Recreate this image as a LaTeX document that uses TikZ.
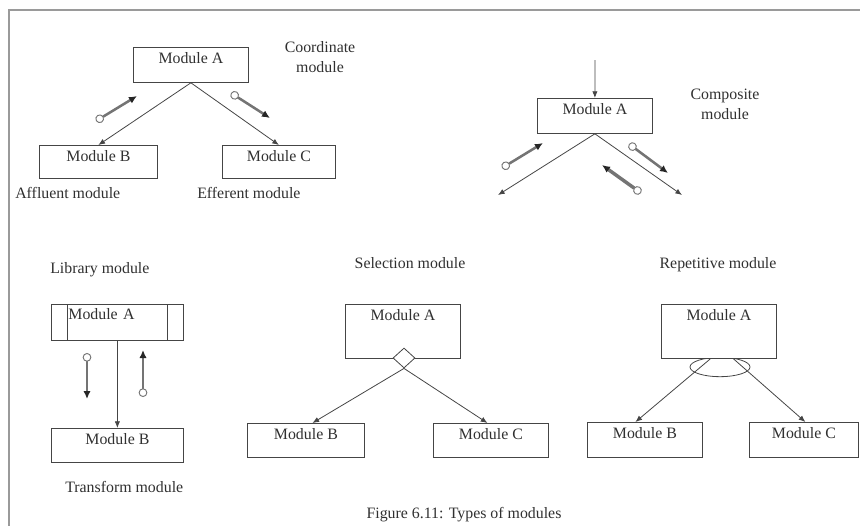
\documentclass[tikz,border=0pt]{standalone}
\usepackage{fontspec}
\setmainfont{Liberation Serif}
\usetikzlibrary{arrows.meta,shapes.geometric,calc}
\definecolor{ink}{HTML}{303030}
\definecolor{wire}{HTML}{454545}
\definecolor{framecol}{HTML}{9A9A9A}
\definecolor{couplecol}{HTML}{747474}

\begin{document}
\begin{tikzpicture}[x=0.75pt,y=-0.75pt,
  font=\fontsize{11.9}{15}\selectfont, text=ink,
  modbox/.style 2 args={draw=wire, line width=0.6pt, fill=white, inner sep=0pt,
    anchor=north west, minimum width=#1, text height=12pt, text depth=#2},
  conn/.style={draw=wire, line width=0.6pt, -{Latex[length=5pt,width=4pt]}},
  couple/.style={line width=1.9pt, draw=couplecol,
    arrows={Circle[open,fill=white,length=6.5pt,width=6.5pt,line width=0.7pt]-Latex[length=6pt,width=5.5pt,color=black!85]}},
  tag/.style={inner sep=0pt, anchor=base west},
  ctag/.style={inner sep=0pt, anchor=base},
  twoline/.style={inner sep=0pt, align=center, anchor=center}]

\useasboundingbox (0,0) rectangle (860,526);

% page frame (top and left rules)
\draw[framecol, line width=1.2pt] (860,10) -- (9,10) -- (9,526);

% ---- coordinate module ----
\node[modbox={86.25pt}{14.25pt}] (coA) at (133,47) {Module A};
\node[modbox={88.5pt}{12.75pt}]  (coB) at (39,145) {Module B};
\node[modbox={84.75pt}{12.75pt}] (coC) at (222,145) {Module C};
\draw[conn] (coA.south) -- (coB.north);
\draw[conn] (coA.south) -- (coC.north);
\node[twoline] (coT) at (320,57) {Coordinate\\module};
\node[tag] (coAff) at (15,198) {Affluent module};
\node[tag] (coEff) at (197,198) {Efferent module};
\coordinate (k1s) at (96,121);  \coordinate (k1e) at (137,96);
\coordinate (k2s) at (231,93);  \coordinate (k2e) at (270,118);
\draw[couple] (k1s) -- (k1e);
\draw[couple] (k2s) -- (k2e);

% ---- composite module ----
\node[modbox={86.25pt}{14.25pt}] (cmA) at (537,98) {Module A};
\coordinate (cmIn) at (595,60);
\coordinate (cmL) at (498,195);
\coordinate (cmR) at (682,195);
\draw[conn] (cmIn) -- (cmA.north);
\draw[conn] (cmA.south) -- (cmL);
\draw[conn] (cmA.south) -- (cmR);
\node[twoline] (cmT) at (725,104) {Composite\\module};
\coordinate (k3s) at (502,168); \coordinate (k3e) at (543,143);
\coordinate (k4s) at (629,144); \coordinate (k4e) at (668,173);
\coordinate (k5s) at (641,193); \coordinate (k5e) at (602,165);
\draw[couple] (k3s) -- (k3e);
\draw[couple] (k4s) -- (k4e);
\draw[couple, line width=2.6pt] (k5s) -- (k5e);

% ---- library / transform module ----
\node[tag] (lbT) at (50,273) {Library module};
\node[draw=wire, line width=0.6pt, fill=white, inner sep=0pt, anchor=north west,
      text width=99pt, align=left, text height=11.5pt, text depth=15.5pt]
      (lbA) at (51,304) {\hspace*{12.75pt}Module A};
\draw[wire, line width=0.6pt] ([xshift=12pt]lbA.north west) -- ([xshift=12pt]lbA.south west);
\draw[wire, line width=0.6pt] ([xshift=-12pt]lbA.north east) -- ([xshift=-12pt]lbA.south east);
\node[modbox={99pt}{13.5pt}] (lbB) at (51,428) {Module B};
\draw[conn] (lbA.south) -- (lbB.north);
\node[tag] (lbTr) at (65,492) {Transform module};
\coordinate (k6s) at (87,353);  \coordinate (k6e) at (87,399);
\coordinate (k7s) at (143,397); \coordinate (k7e) at (143,350);
\draw[couple] (k6s) -- (k6e);
\draw[couple] (k7s) -- (k7e);

% ---- selection module ----
\node[ctag] (seT) at (410,268) {Selection module};
\node[modbox={86.25pt}{28.5pt}] (seA) at (345,304) {Module A};
\node[modbox={87.75pt}{13.5pt}] (seB) at (247,423) {Module B};
\node[modbox={86.25pt}{13.5pt}] (seC) at (433,423) {Module C};
\node[diamond, draw=wire, line width=0.6pt, fill=white, inner sep=0pt,
      minimum width=16.5pt, minimum height=15pt] (seD) at (404,358) {};
\draw[conn] (seD.south) -- ([xshift=4.9pt]seB.north);
\draw[conn] (seD.south) -- ([xshift=-2.6pt]seC.north);

% ---- repetitive module ----
\node[ctag] (reT) at (718,268) {Repetitive module};
\node[ellipse, draw=wire, line width=0.6pt, inner sep=0pt,
      minimum width=45pt, minimum height=14.5pt] (reLoop) at (720,367) {};
\node[modbox={86.25pt}{28.5pt}] (reA) at (661,304) {Module A};
\node[modbox={86.25pt}{14.25pt}] (reB) at (587,422) {Module B};
\node[modbox={81.75pt}{14.25pt}] (reC) at (749,422) {Module C};
\draw[conn] ([xshift=-6.4pt]reA.south) -- ([xshift=-7.1pt]reB.north);
\draw[conn] ([xshift=10.9pt]reA.south) -- ([xshift=1.1pt]reC.north);

% ---- caption ----
\node[ctag] (cap) at (464,518) {Figure 6.11: Types of modules};

\end{tikzpicture}
\end{document}
